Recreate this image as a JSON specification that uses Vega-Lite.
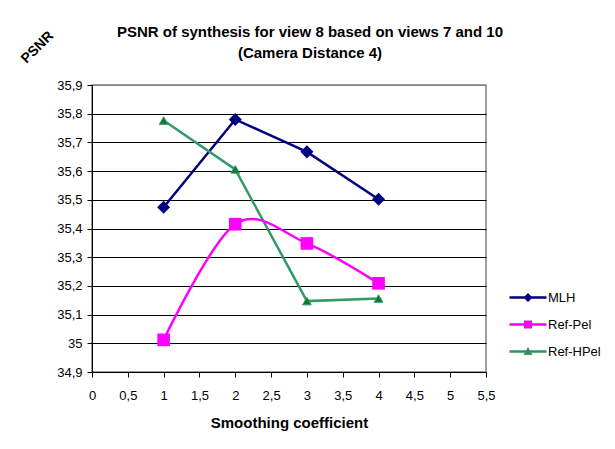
{
  "$schema": "https://vega.github.io/schema/vega-lite/v6.json",
  "autosize": "none",
  "width": 394,
  "height": 287,
  "padding": {"left": 92, "top": 85, "right": 129, "bottom": 77},
  "background": "white",
  "config": {
    "font": "Liberation Sans",
    "view": {"stroke": "#808080", "strokeWidth": 1.5},
    "axis": {
      "labelFont": "Liberation Sans",
      "labelFontSize": 13,
      "labelColor": "black",
      "domainColor": "black",
      "tickColor": "black",
      "tickSize": 5,
      "titleFont": "Liberation Sans",
      "titleFontSize": 14,
      "titleFontWeight": "bold",
      "titleColor": "black"
    }
  },
  "title": {
    "text": ["PSNR of synthesis for view 8 based on views 7 and 10", "(Camera Distance 4)"],
    "font": "Liberation Sans",
    "fontSize": 15,
    "fontWeight": "bold",
    "color": "black",
    "anchor": "middle",
    "frame": "group",
    "lineHeight": 21,
    "offset": 26,
    "dx": 21,
    "dy": 59
  },
  "data": {
    "values": [
      {"x": 1, "psnr": 35.474, "series": "MLH"},
      {"x": 2, "psnr": 35.78, "series": "MLH"},
      {"x": 3, "psnr": 35.667, "series": "MLH"},
      {"x": 4, "psnr": 35.502, "series": "MLH"},
      {"x": 1, "psnr": 35.012, "series": "Ref-Pel"},
      {"x": 2, "psnr": 35.415, "series": "Ref-Pel"},
      {"x": 3, "psnr": 35.348, "series": "Ref-Pel"},
      {"x": 4, "psnr": 35.209, "series": "Ref-Pel"},
      {"x": 1, "psnr": 35.776, "series": "Ref-HPel"},
      {"x": 2, "psnr": 35.606, "series": "Ref-HPel"},
      {"x": 3, "psnr": 35.147, "series": "Ref-HPel"},
      {"x": 4, "psnr": 35.156, "series": "Ref-HPel"}
    ]
  },
  "encoding": {
    "x": {
      "field": "x",
      "type": "quantitative",
      "scale": {"domain": [0, 5.5], "nice": false, "zero": false},
      "axis": {
        "title": "Smoothing coefficient",
        "titleFontSize": 15,
        "values": [0, 0.5, 1, 1.5, 2, 2.5, 3, 3.5, 4, 4.5, 5, 5.5],
        "labelExpr": "replace(format(datum.value, '~g'), '.', ',')",
        "labelPadding": 12,
        "grid": false,
        "titleX": 197,
        "titleY": 50,
        "titleBaseline": "middle",
        "titleAlign": "center",
        "labelFlush": false
      }
    },
    "y": {
      "field": "psnr",
      "type": "quantitative",
      "scale": {"domain": [34.9, 35.9], "nice": false, "zero": false},
      "axis": {
        "title": "PSNR",
        "titleAngle": -45,
        "titleX": -55,
        "titleY": -38,
        "titleAlign": "center",
        "titleBaseline": "middle",
        "values": [34.9, 35, 35.1, 35.2, 35.3, 35.4, 35.5, 35.6, 35.7, 35.8, 35.9],
        "labelExpr": "replace(format(datum.value, '~g'), '.', ',')",
        "labelPadding": 5,
        "grid": true,
        "gridColor": {"condition": {"test": "datum.value > 35.85", "value": "#808080"}, "value": "black"},
        "gridWidth": 1,
        "gridOpacity": 1,
        "labelFlush": false
      }
    }
  },
  "layer": [
    {
      "transform": [{"filter": "datum.series === 'MLH'"}],
      "mark": {"type": "line", "strokeWidth": 2.5, "color": "#000080"}
    },
    {
      "transform": [{"filter": "datum.series === 'Ref-HPel'"}],
      "mark": {"type": "line", "strokeWidth": 2.5, "color": "#339966"}
    },
    {
      "transform": [{"filter": "datum.series === 'Ref-Pel'"}],
      "mark": {"type": "line", "strokeWidth": 2.5, "interpolate": "cardinal", "color": "#FF00FF"}
    },
    {
      "transform": [{"filter": "datum.series === 'MLH'"}],
      "mark": {"type": "point", "shape": "diamond", "filled": true, "opacity": 1, "color": "#000080", "size": 170}
    },
    {
      "transform": [{"filter": "datum.series === 'Ref-Pel'"}],
      "mark": {"type": "point", "shape": "square", "filled": true, "opacity": 1, "color": "#FF00FF", "size": 160}
    },
    {
      "transform": [{"filter": "datum.series === 'Ref-HPel'"}],
      "mark": {"type": "point", "shape": "triangle-up", "filled": true, "opacity": 1, "fill": "#0A7A2E", "stroke": "#339966", "strokeWidth": 1, "size": 75}
    },
    {
      "transform": [{"filter": "false"}],
      "mark": {"type": "point", "filled": true, "opacity": 1},
      "encoding": {
        "color": {
          "field": "series",
          "type": "nominal",
          "scale": {"domain": ["MLH", "Ref-Pel", "Ref-HPel"], "range": ["#000080", "#FF00FF", "#2E9560"]},
          "legend": {
            "title": null,
            "orient": "none",
            "legendX": 429.5,
            "legendY": 206,
            "symbolSize": 100,
            "symbolStrokeWidth": 0,
            "symbolOpacity": 1,
            "labelOffset": 13.5,
            "labelFontSize": 13,
            "labelFont": "Liberation Sans",
            "labelColor": "black",
            "rowPadding": 13,
            "padding": 0
          }
        },
        "shape": {
          "field": "series",
          "type": "nominal",
          "scale": {
            "domain": ["MLH", "Ref-Pel", "Ref-HPel"],
            "range": [
              "M-3.7,-0.25H3.7V0.25H-3.7Z M0,-0.9L0.9,0L0,0.9L-0.9,0Z",
              "M-3.7,-0.25H3.7V0.25H-3.7Z M-0.8,-0.8H0.8V0.8H-0.8Z",
              "M-3.7,-0.25H3.7V0.25H-3.7Z M0,-0.9L0.9,0.7L-0.9,0.7Z"
            ]
          },
          "legend": {
            "title": null,
            "orient": "none",
            "legendX": 429.5,
            "legendY": 206,
            "symbolSize": 100,
            "symbolStrokeWidth": 0,
            "symbolOpacity": 1,
            "labelOffset": 13.5,
            "labelFontSize": 13,
            "labelFont": "Liberation Sans",
            "labelColor": "black",
            "rowPadding": 13,
            "padding": 0
          }
        }
      }
    }
  ]
}
